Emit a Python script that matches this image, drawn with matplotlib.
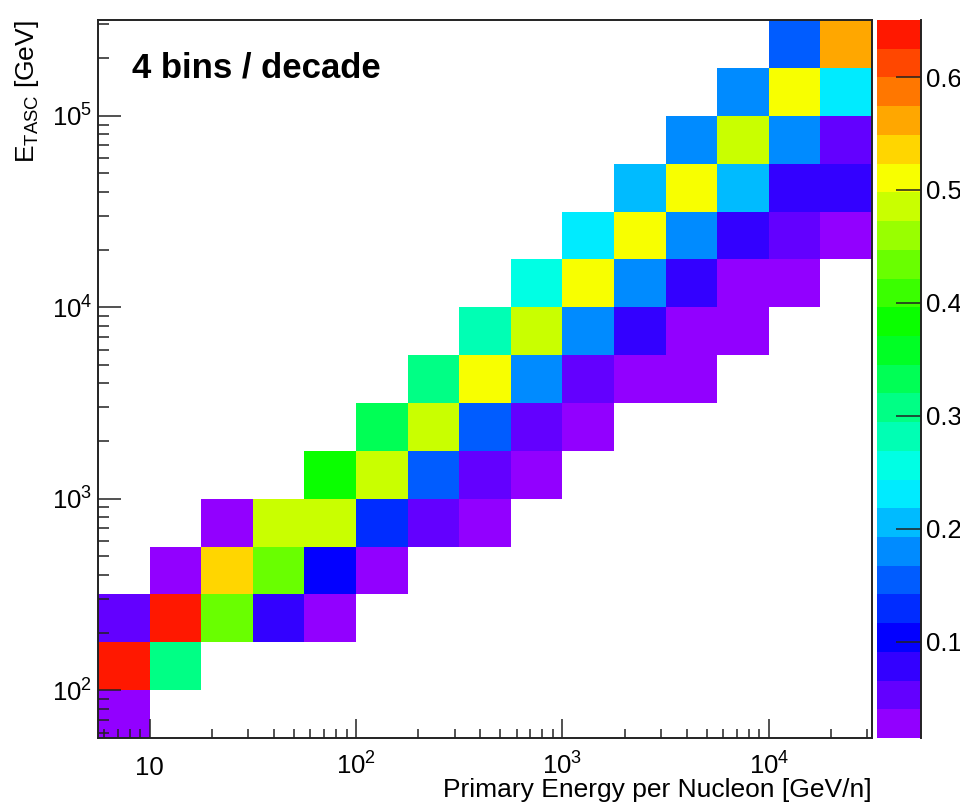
import numpy as np
import matplotlib
matplotlib.use("Agg")
import matplotlib.pyplot as plt
import matplotlib.colors as mcolors

plt.rcParams["font.family"] = ["Liberation Sans", "DejaVu Sans"]
plt.rcParams["mathtext.fontset"] = "custom"
plt.rcParams["mathtext.rm"] = "Liberation Sans"
plt.rcParams["mathtext.it"] = "Liberation Sans:italic"
plt.rcParams["mathtext.bf"] = "Liberation Sans:bold"

# Binning: 4 bins per decade on both axes (log10 of the bin edges)
BINS_PER_DECADE = 4
X_LOG_RANGE = (0.75, 4.5)   # primary energy per nucleon [GeV/n]
Y_LOG_RANGE = (1.75, 5.5)   # E_TASC [GeV]

# Response matrix, one list per E_TASC row (bottom to top).
# ROW_START gives the first primary-energy column that has entries.
ROW_START = [0, 0, 0, 1, 2, 4, 5, 6, 7, 8, 9, 10, 11, 12, 13]
ROW_VALUES = [
    [0.025],
    [0.640, 0.305],
    [0.055, 0.635, 0.435, 0.080, 0.025],
    [0.030, 0.535, 0.440, 0.105, 0.025],
    [0.030, 0.485, 0.480, 0.130, 0.055, 0.025],
    [0.385, 0.490, 0.155, 0.050, 0.025],
    [0.335, 0.485, 0.150, 0.055, 0.025],
    [0.305, 0.510, 0.180, 0.050, 0.030, 0.025],
    [0.280, 0.485, 0.180, 0.080, 0.030, 0.025],
    [0.255, 0.510, 0.180, 0.080, 0.030, 0.025],
    [0.230, 0.515, 0.180, 0.075, 0.055, 0.030],
    [0.205, 0.510, 0.205, 0.080, 0.080],
    [0.180, 0.490, 0.180, 0.055],
    [0.180, 0.510, 0.230],
    [0.155, 0.560],
]

Z_MIN, Z_MAX = 0.0147, 0.6505
N_CONTOURS = 25
CBAR_TICKS = [0.1, 0.2, 0.3, 0.4, 0.5, 0.6]

X_TICKS = [10, 1e2, 1e3, 1e4]
X_TICK_LABELS = ["10", "$10^{2}$", "$10^{3}$", "$10^{4}$"]
Y_TICKS = [1e2, 1e3, 1e4, 1e5]
Y_TICK_LABELS = ["$10^{2}$", "$10^{3}$", "$10^{4}$", "$10^{5}$"]

# bin edges
nx = int(round((X_LOG_RANGE[1] - X_LOG_RANGE[0]) * BINS_PER_DECADE))
ny = int(round((Y_LOG_RANGE[1] - Y_LOG_RANGE[0]) * BINS_PER_DECADE))
x_edges = np.logspace(X_LOG_RANGE[0], X_LOG_RANGE[1], nx + 1)
y_edges = np.logspace(Y_LOG_RANGE[0], Y_LOG_RANGE[1], ny + 1)

z = np.full((ny, nx), np.nan)
for j, (start, vals) in enumerate(zip(ROW_START, ROW_VALUES)):
    z[j, start:start + len(vals)] = vals
z = np.ma.masked_invalid(z)

# ROOT-style "pretty" rainbow palette, violet -> red
hues = (274.4 - 11.2 * np.arange(N_CONTOURS)) / 360.0
palette = mcolors.hsv_to_rgb(np.column_stack([hues, np.ones(N_CONTOURS), np.ones(N_CONTOURS)]))
cmap = mcolors.ListedColormap(palette)
norm = mcolors.BoundaryNorm(np.linspace(Z_MIN, Z_MAX, N_CONTOURS + 1), N_CONTOURS)

fig = plt.figure(figsize=(9.6, 8.05), dpi=100)
ax = fig.add_axes([0.1021, 0.0832, 0.8063, 0.8919])
cax = fig.add_axes([0.9135, 0.0832, 0.0458, 0.8919])

mesh = ax.pcolormesh(x_edges, y_edges, z, cmap=cmap, norm=norm)
ax.set_xscale("log")
ax.set_yscale("log")
ax.set_xlim(x_edges[0], x_edges[-1])
ax.set_ylim(y_edges[0], y_edges[-1])

frame_color = "#222222"
for sp in ax.spines.values():
    sp.set_linewidth(1.4)
    sp.set_color(frame_color)

ax.set_xticks(X_TICKS, labels=X_TICK_LABELS)
ax.set_yticks(Y_TICKS, labels=Y_TICK_LABELS)
ax.tick_params(axis="x", which="major", direction="in", length=13.5, width=1.1,
               color=frame_color, labelsize=18.5, pad=26.5)
ax.tick_params(axis="x", which="minor", direction="in", length=6.5, width=1.1, color=frame_color)
ax.tick_params(axis="y", which="major", direction="in", length=16.5, width=1.1,
               color=frame_color, labelsize=18.5, pad=4)
ax.tick_params(axis="y", which="minor", direction="in", length=8, width=1.1, color=frame_color)
plt.setp(ax.get_xticklabels(), va="baseline")

ax.set_xlabel("Primary Energy per Nucleon [GeV/n]", fontsize=19, ha="right")
ax.xaxis.label.set_va("baseline")
ax.xaxis.set_label_coords(1.0, -(797 - 738) / 718)

ax.set_ylabel(r"E$_{\mathrm{TASC}}$ [GeV]", fontsize=19, ha="right")
ax.yaxis.label.set_va("baseline")
ax.yaxis.set_label_coords(-(98 - 34) / 774, 1.0)

ax.text(0.044, 0.9206, "4 bins / decade", transform=ax.transAxes,
        fontsize=25, fontweight="bold", va="baseline", ha="left")

# palette axis
cb = fig.colorbar(mesh, cax=cax, ticks=CBAR_TICKS)
cb.outline.set_visible(False)
cb.minorticks_off()
cax.set_yticklabels([f"{t:.1f}" for t in CBAR_TICKS])
cax.tick_params(direction="in", length=18, width=1.1, color=frame_color,
                labelsize=18.5, pad=4)
cax.plot([1, 1], [0, 1], transform=cax.transAxes, color=frame_color,
         lw=1.4, clip_on=False)

fig.savefig("out.png", dpi=100)
